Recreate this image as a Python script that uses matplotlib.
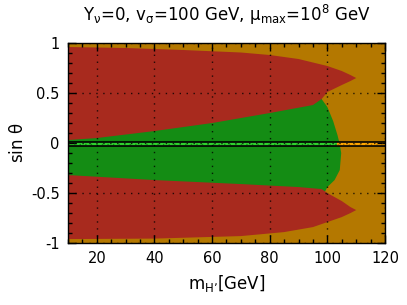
import numpy as np
import matplotlib
matplotlib.use("Agg")
import matplotlib.pyplot as plt
from matplotlib.ticker import MultipleLocator

plt.rcParams['mathtext.default'] = 'regular'
plt.rcParams['font.family'] = ['DejaVu Sans']

# upper excluded (red) region
up_top_m = [10, 30, 50, 70, 80, 90, 100, 105, 108, 110]
up_top_s = [0.96, 0.95, 0.93, 0.905, 0.88, 0.84, 0.77, 0.72, 0.68, 0.65]
up_bot_m = [10, 20, 40, 60, 80, 95, 98, 100, 105, 108, 110]
up_bot_s = [0.03, 0.05, 0.12, 0.2, 0.3, 0.38, 0.44, 0.51, 0.58, 0.62, 0.65]

# lower excluded (red) region
lo_top_m = [10, 40, 70, 90, 98, 100, 105, 108, 110]
lo_top_s = [-0.32, -0.37, -0.41, -0.44, -0.46, -0.5, -0.58, -0.64, -0.67]
lo_bot_m = [10, 40, 70, 85, 95, 100, 105, 108, 110]
lo_bot_s = [-0.96, -0.955, -0.93, -0.89, -0.84, -0.79, -0.74, -0.7, -0.67]

# allowed (green) region, right edge
gr_m = [10, 97, 98, 100, 102, 103.5, 104.2, 104.8, 104.3, 102.5, 100, 98, 10]
gr_s = [0.5, 0.5, 0.44, 0.36, 0.22, 0.08, 0.0, -0.1, -0.27, -0.37, -0.44, -0.55, -0.55]

# thin band around zero
band_lo, band_hi = -0.03, 0.008
band_split = 103.5

fig = plt.figure(figsize=(4.07, 3.05), dpi=100)
ax = fig.add_axes([0.167, 0.203, 0.779, 0.656])
ax.set_facecolor('#b47800')

ax.fill(gr_m, gr_s, color='#148c14', lw=0)
ax.fill(up_top_m + up_bot_m[::-1], up_top_s + up_bot_s[::-1], color='#a82a1e', lw=0)
ax.fill(lo_top_m + lo_bot_m[::-1], lo_top_s + lo_bot_s[::-1], color='#a82a1e', lw=0)

ax.fill_between([10, band_split], band_lo, band_hi, color='#2fd12f', lw=0)
ax.fill_between([band_split, 120], band_lo, band_hi, color='#ffa500', lw=0)
ax.plot([10, band_split], [(band_lo + band_hi) / 2] * 2, color='#148c14', lw=1, ls=(0, (1, 3)))
ax.plot([band_split, 120], [(band_lo + band_hi) / 2] * 2, color='#b47800', lw=1, ls=(0, (1, 3)))
ax.axhline(band_hi, color='k', lw=1.2)
ax.axhline(band_lo, color='k', lw=1.2)

ax.set_xlim(10, 120)
ax.set_ylim(-1, 1)
ax.xaxis.set_major_locator(MultipleLocator(20))
ax.xaxis.set_minor_locator(MultipleLocator(5))
ax.yaxis.set_minor_locator(MultipleLocator(0.1))
ax.set_yticks([-1, -0.5, 0, 0.5, 1])
ax.set_yticklabels(['-1', '-0.5', '0', '0.5', '1'])
ax.tick_params(which='both', direction='in', top=True, right=True, labelsize=10.5, width=1)
ax.tick_params(which='major', length=6, pad=6)
ax.tick_params(which='minor', length=3)
ax.grid(True, which='major', color='k', lw=1, ls=(0, (1, 4)), alpha=0.8)
for s in ax.spines.values():
    s.set_linewidth(1)

ax.set_title(r"Y$_\nu$=0, v$_\sigma$=100 GeV, $\mu_{max}$=10$^8$ GeV", fontsize=12, pad=16)
ax.set_xlabel("m$_{H\u2019}$[GeV]", fontsize=12, labelpad=5)
ax.set_ylabel(r"sin $\theta$", fontsize=12, labelpad=3)

fig.savefig("out.png", dpi=100)
